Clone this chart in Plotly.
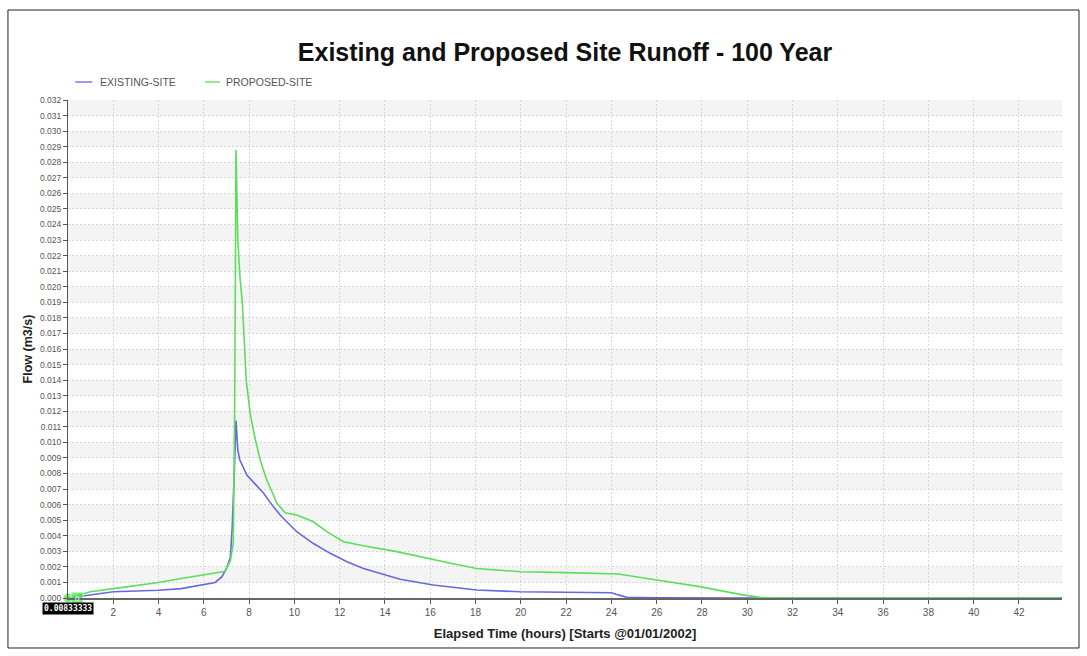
import plotly.graph_objects as go

# Hydrograph ordinates (elapsed hours, flow in m3/s)
existing_t = [0.00833, 0.5, 1.0, 2.0, 3.0, 4.0, 5.0, 6.0, 6.5, 6.8, 7.0, 7.17, 7.25, 7.33, 7.42,
              7.5, 7.58, 7.9, 8.3, 8.64, 9.0, 9.37, 10.1, 10.84, 11.58, 12.32, 13.05, 13.79,
              14.67, 16.13, 18.05, 19.97, 22.03, 24.0, 24.3, 24.68, 26.0, 28.0, 30.0, 31.0, 32.0, 43.9]
existing_q = [0.0, 0.0001, 0.0002, 0.0004, 0.00045, 0.0005, 0.0006, 0.00084, 0.001, 0.00137, 0.0019,
              0.0026, 0.0045, 0.0075, 0.0114, 0.0095, 0.0089, 0.0079, 0.0073, 0.00673, 0.006, 0.00533,
              0.00426, 0.0035, 0.00287, 0.00233, 0.0019, 0.00159, 0.0012, 0.00084, 0.00051, 0.0004,
              0.00036, 0.00034, 0.0002, 0.00004, 0.00002, 0.00001, 0.00001, 0.0, 0.0, 0.0]

proposed_t = [0.00833, 0.5, 1.0, 2.0, 3.0, 4.0, 5.0, 6.0, 6.5, 6.9, 7.0, 7.17, 7.3, 7.36, 7.42,
              7.5, 7.6, 7.7, 7.87, 8.05, 8.27, 8.5, 8.78, 9.0, 9.23, 9.59, 10.1, 10.84, 11.43,
              12.17, 13.05, 14.52, 16.0, 17.0, 18.05, 19.97, 22.03, 24.3, 26.0, 27.9, 29.8, 30.56,
              31.5, 32.0, 43.9]
proposed_q = [0.0, 0.0002, 0.0004, 0.0006, 0.0008, 0.001, 0.00125, 0.0015, 0.0016, 0.0017, 0.0019,
              0.0024, 0.0035, 0.012, 0.0288, 0.023, 0.0205, 0.019, 0.014, 0.0118, 0.0102, 0.0088,
              0.00758, 0.0068, 0.00609, 0.00548, 0.00533, 0.0049, 0.00426, 0.00362, 0.00336, 0.00298,
              0.0025, 0.0022, 0.0019, 0.00169, 0.00163, 0.00154, 0.00116, 0.00073, 0.0002, 0.00004,
              0.0, 0.0, 0.0]

series_names = ["EXISTING-SITE", "PROPOSED-SITE"]
series_colors = ["rgb(104,104,222)", "rgb(92,222,92)"]

x_ticks = list(range(2, 43, 2))
y_ticks = [i / 1000 for i in range(0, 33)]
y_max = 0.032
x_max = 43.9

fig = go.Figure()

fig.add_trace(go.Scatter(x=existing_t, y=existing_q, mode="lines", name=series_names[0],
                         showlegend=False, line=dict(color=series_colors[0], width=1.6)))
fig.add_trace(go.Scatter(x=proposed_t, y=proposed_q, mode="lines", name=series_names[1],
                         showlegend=False, line=dict(color=series_colors[1], width=1.6)))

# alternating shaded bands behind the grid
shapes = []
for k in range(1, 32, 2):
    shapes.append(dict(type="rect", xref="paper", yref="y", x0=0, x1=1,
                       y0=k / 1000, y1=(k + 1) / 1000, fillcolor="#f4f4f4",
                       line=dict(width=0), layer="below"))
# outer frame
shapes.append(dict(type="rect", xref="paper", yref="paper", x0=-0.0604, x1=1.0171,
                   y0=-0.1004, y1=1.1807, line=dict(color="#222222", width=1),
                   fillcolor="rgba(0,0,0,0)", layer="above"))

# compact legend drawn above the plot area (short line samples)
legend_x = [[0.0073, 0.0244], [0.1378, 0.1529]]
legend_text_x = [0.0302, 0.1570]
for i, name in enumerate(series_names):
    shapes.append(dict(type="line", xref="paper", yref="paper",
                       x0=legend_x[i][0], x1=legend_x[i][1], y0=1.0361, y1=1.0361,
                       line=dict(color=series_colors[i], width=1.3)))
    fig.add_annotation(x=legend_text_x[i], y=1.0361, xref="paper", yref="paper",
                       text=name, showarrow=False, xanchor="left", yanchor="middle",
                       font=dict(family="Liberation Sans Narrow, Arial", size=10.5, color="#555555"))
fig.update_layout(shapes=shapes)

# start-time cursor marker and label
fig.add_trace(go.Scatter(x=[0.00833, 0.4], y=[0, 0], mode="markers", showlegend=False,
                         hoverinfo="skip", cliponaxis=False,
                         marker=dict(color="rgb(70,230,70)", size=[10, 12],
                                     symbol=["circle", "square"])))
fig.add_annotation(x=0.4, y=0, xref="x", yref="y", text="0", showarrow=False,
                   font=dict(family="Arial", size=8, color="white"))
fig.add_annotation(x=0.00833, y=0, xref="x", yref="y", text="<b>0.00833333</b>",
                   showarrow=False, yshift=-10, xshift=0, bgcolor="black",
                   font=dict(family="DejaVu Sans Mono", size=8, color="white"), borderpad=1)

fig.update_layout(
    width=1087, height=656,
    margin=dict(l=68, r=25, t=100, b=58),
    paper_bgcolor="white", plot_bgcolor="white",
    title=dict(text="<b>Existing and Proposed Site Runoff - 100 Year</b>",
               x=0.5, xanchor="center", xref="paper", y=0.92, yanchor="middle",
               font=dict(family="Arial", size=25, color="#111111")),
    showlegend=False,
)

grid_dash = "2px,2px"
fig.update_xaxes(
    range=[0, x_max], tickmode="array", tickvals=x_ticks,
    ticktext=[str(v) for v in x_ticks],
    ticks="outside", ticklen=4, tickcolor="#555555",
    showline=True, linecolor="#666666", linewidth=2,
    showgrid=True, gridcolor="#d6d6d6", griddash=grid_dash, gridwidth=1,
    zeroline=False,
    tickfont=dict(family="Arial", size=10, color="#555555"),
    title=dict(text="<b>Elapsed Time (hours) [Starts @01/01/2002]</b>", standoff=12,
               font=dict(family="Arial", size=13, color="#222222")),
)
fig.update_yaxes(
    range=[0, y_max], tickmode="array", tickvals=y_ticks,
    ticktext=[f"{v:.3f}" for v in y_ticks],
    ticks="outside", ticklen=4, tickcolor="#555555",
    showline=True, linecolor="#555555", linewidth=1,
    showgrid=True, gridcolor="#d6d6d6", griddash=grid_dash, gridwidth=1,
    zeroline=False,
    tickfont=dict(family="Arial", size=8.5, color="#555555"),
    title=dict(text="<b>Flow (m3/s)</b>", standoff=4,
               font=dict(family="Arial", size=12.5, color="#222222")),
)

fig.write_html("out.html")
